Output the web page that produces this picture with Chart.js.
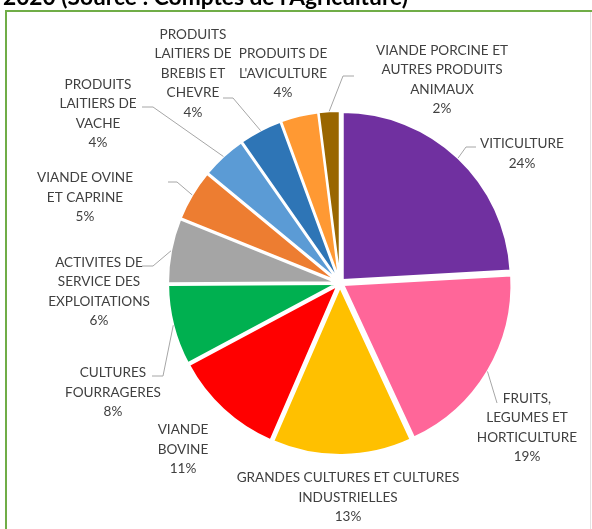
<!DOCTYPE html>
<html>
<head>
<meta charset="utf-8">
<script src="https://cdn.jsdelivr.net/npm/chart.js@4.4.0/dist/chart.umd.min.js"></script>
<style>
  html, body { margin: 0; padding: 0; background: #fff; overflow: hidden; }
  #frame { position: absolute; left: 5px; top: 10px; width: 700px; height: 700px;
           border-left: 2px solid #70AD47; border-top: 2px solid #70AD47; }
  #edge { position: absolute; left: 590px; top: 12px; width: 1px; height: 600px; background: #e3e3e3; }
  #pie_chart { position: absolute; left: 0; top: 0; }
</style>
</head>
<body>
<div id="frame"></div>
<div id="edge"></div>
<canvas id="pie_chart" width="592" height="529"></canvas>
<script>
const title_text = "2020 (Source : Comptes de l'Agriculture)";

const categories = [
    "VITICULTURE",
    "FRUITS,\nLEGUMES ET\nHORTICULTURE",
    "GRANDES CULTURES ET CULTURES\nINDUSTRIELLES",
    "VIANDE\nBOVINE",
    "CULTURES\nFOURRAGERES",
    "ACTIVITES DE\nSERVICE DES\nEXPLOITATIONS",
    "VIANDE OVINE\nET CAPRINE",
    "PRODUITS\nLAITIERS DE\nVACHE",
    "PRODUITS\nLAITIERS DE\nBREBIS ET\nCHEVRE",
    "PRODUITS DE\nL'AVICULTURE",
    "VIANDE PORCINE ET\nAUTRES PRODUITS\nANIMAUX",
];

// share of production value, in %
const shares = [24.1, 19.0, 13.4, 10.7, 7.7, 6.2, 4.9, 4.3, 4.1, 3.6, 2.0];

const colors = [
    "#7030A0", "#FF6699", "#FFC000", "#FF0000", "#00B050", "#A5A5A5",
    "#ED7D31", "#5B9BD5", "#2E75B6", "#FF9933", "#996600",
];

// where Excel put each label: centre relative to pie centre,
// leader end relative to label centre and length of its flat part
const label_layout = [
    { dx: 182, dy: -130, leader: [-46, -6, -10] },
    { dx: 187, dy: 144, leader: [-30, -24, 0] },
    { dx: 8, dy: 214 },
    { dx: -157, dy: 166 },
    { dx: -227, dy: 109, leader: [39, -16, 11] },
    { dx: -241, dy: 8, leader: [43, -25, 11] },
    { dx: -255, dy: -86, leader: [83, -15, 9] },
    { dx: -242, dy: -170, leader: [44, -6, 11] },
    { dx: -147, dy: -210, leader: [30, 25, 10] },
    { dx: -57, dy: -210 },
    { dx: 102, dy: -204, leader: [-88, -3, -11] },
];

const explode = 4;
const line_h = 19.5;
const font_family = "Lato, 'Open Sans', sans-serif";

// size fonts so the text spans the same width as in the original
const measure = document.createElement("canvas").getContext("2d");
measure.font = "20px " + font_family;
const label_size = 20 * 223 / measure.measureText("GRANDES CULTURES ET CULTURES").width;
measure.font = "bold 20px " + font_family;
const title_size = 20 * 405 / measure.measureText(title_text).width;

const total = shares.reduce((a, b) => a + b, 0);

const explodePlugin = {
    id: "explode",
    beforeDatasetsDraw(chart) {
        chart.getDatasetMeta(0).data.forEach(arc => {
            if (arc._exploded) return;
            const draw = arc.draw;
            arc.draw = function (ctx, area) {
                const mid = (this.startAngle + this.endAngle) / 2;
                ctx.save();
                ctx.translate(Math.cos(mid) * explode, Math.sin(mid) * explode);
                draw.call(this, ctx, area);
                ctx.restore();
            };
            arc._exploded = true;
        });
    },
};

const labelPlugin = {
    id: "pieLabels",
    afterDatasetsDraw(chart) {
        const ctx = chart.ctx;
        ctx.save();

        ctx.font = "bold " + title_size.toFixed(2) + "px " + font_family;
        ctx.fillStyle = "#000";
        ctx.textAlign = "left";
        ctx.textBaseline = "alphabetic";
        ctx.fillText(title_text, 3, 5);

        ctx.font = label_size.toFixed(2) + "px " + font_family;
        ctx.textAlign = "center";
        const cap = label_size * 0.36;
        chart.getDatasetMeta(0).data.forEach((arc, i) => {
            const lay = label_layout[i];
            const cx = arc.x + lay.dx;
            const cy = arc.y + lay.dy;
            const pct = Math.round(shares[i] / total * 100) + "%";
            const lines = (categories[i] + "\n" + pct).split("\n");
            ctx.fillStyle = "#404040";
            lines.forEach((ln, k) => {
                ctx.fillText(ln, cx, cy + (k - (lines.length - 1) / 2) * line_h + cap);
            });
            if (lay.leader) {
                const mid = (arc.startAngle + arc.endAngle) / 2;
                const r = arc.outerRadius + explode;
                const ex = cx + lay.leader[0];
                const ey = cy + lay.leader[1];
                ctx.strokeStyle = "#A6A6A6";
                ctx.lineWidth = 1;
                ctx.beginPath();
                ctx.moveTo(arc.x + Math.cos(mid) * r, arc.y + Math.sin(mid) * r);
                ctx.lineTo(ex + lay.leader[2], ey);
                ctx.lineTo(ex, ey);
                ctx.stroke();
            }
        });
        ctx.restore();
    },
};

const pie_chart = document.getElementById("pie_chart");
const pie_chart1 = new Chart(pie_chart, {
    type: "pie",
    data: {
        labels: categories,
        datasets: [{
            data: shares,
            backgroundColor: colors,
            borderColor: "#ffffff",
            borderWidth: 2,
        }],
    },
    options: {
        responsive: false,
        animation: false,
        devicePixelRatio: 1,
        radius: 168,
        layout: { padding: { left: 88, top: 37, right: 0, bottom: 0 } },
        plugins: {
            legend: { display: false },
            tooltip: { enabled: false },
        },
    },
    plugins: [explodePlugin, labelPlugin],
});
</script>
</body>
</html>
